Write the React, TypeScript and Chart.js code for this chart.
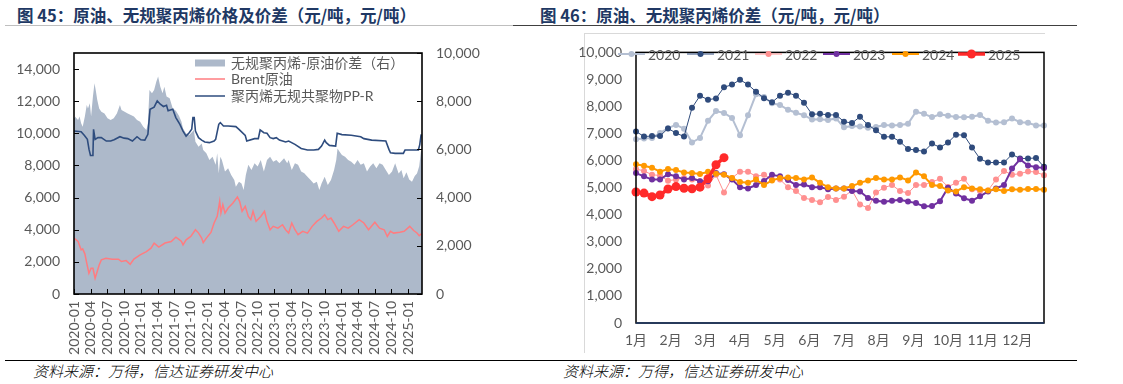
import React, { useEffect, useRef } from "react";
import { Chart, registerables } from "chart.js";
Chart.register(...registerables);

// ---------------- Left chart (图45) data: [months since 2020-01, value] ----------------
const ppSeries: [number, number][] = [
  [0, 10150], [1.28, 10100], [1.84, 9875], [2.4, 9625], [2.7, 9000], [2.96, 8625], [3.4, 8625], [3.51, 10250], [3.79, 9625],
  [4.3, 9730], [4.91, 9730], [5.8, 9520], [6.58, 9520], [7.2, 9600], [8.25, 9790], [9.0, 9700], [9.65, 9670], [10.49, 9520],
  [11.32, 9790], [12.0, 9600], [12.72, 9580], [13.27, 9940], [13.66, 11500], [14.39, 11625], [14.95, 12020], [15.5, 11810],
  [16.06, 11670], [16.62, 11750], [16.9, 11400], [17.74, 11500], [18.29, 10980], [19.02, 10560], [19.58, 10140], [20.13, 9830],
  [20.69, 10040], [21.14, 10250], [21.36, 10980], [21.59, 10980], [21.81, 10140], [22.37, 9730], [22.93, 9580], [23.49, 9460],
  [24.32, 9420], [25.16, 9520], [25.44, 9625], [26.0, 10560], [26.28, 10670], [26.84, 10460], [27.68, 10460], [29.07, 10420],
  [29.63, 10250], [30.75, 9875], [31.03, 9520], [32.43, 9670], [33.1, 9670], [33.43, 10210], [34.1, 10040], [34.66, 10000],
  [35.22, 9730], [35.78, 9670], [36.34, 9730], [36.89, 9580], [38.01, 9460], [38.55, 9520], [39.68, 9310], [40.8, 9060],
  [41.93, 8960], [43.05, 8960], [43.9, 9000], [44.46, 9210], [45.02, 9580], [45.3, 9420], [45.87, 9250], [46.99, 9210],
  [47.27, 10000], [48.12, 9920], [49.8, 9880], [51.49, 9790], [52.06, 9670], [53.46, 9580], [56.0, 9520], [56.56, 9000],
  [56.84, 8790], [57.68, 8750], [59.15, 8750], [59.45, 8960], [61.85, 8960], [62.1, 9300], [62.35, 9940],
];

const brentSeries: [number, number][] = [
  [0, 3480], [0.73, 3270], [1.28, 2750], [1.56, 2810], [1.95, 2500], [2.29, 1920], [2.68, 1290], [3.07, 1600], [3.4, 1600],
  [3.79, 980], [4.07, 1290], [4.52, 1810], [4.91, 2125], [5.74, 2230], [6.86, 2170], [7.98, 2170], [8.53, 2020], [9.37, 2080],
  [10.09, 1850], [10.76, 2170], [11.88, 2440], [13.0, 2640], [13.83, 2850], [14.39, 3170], [15.23, 2920], [16.34, 3170],
  [17.46, 3270], [18.29, 3540], [18.85, 3400], [19.3, 3270], [19.58, 3060], [20.13, 3370], [20.97, 3580], [21.81, 4000],
  [22.37, 3790], [22.93, 3480], [23.21, 3200], [23.77, 3480], [24.6, 3830], [25.16, 4420], [25.72, 4830], [26.17, 5770],
  [26.39, 5040], [26.73, 5560], [27.12, 5040], [27.68, 5350], [28.51, 5650], [29.35, 6040], [29.74, 5770], [30.19, 5150],
  [30.75, 5460], [31.31, 4830], [31.75, 4630], [32.15, 5150], [32.7, 4520], [33.54, 4830], [34.21, 5150], [34.66, 4520],
  [35.22, 4000], [35.78, 4210], [36.62, 4100], [37.45, 4310], [38.01, 4000], [38.55, 3790], [39.11, 4420], [39.68, 4000],
  [40.24, 3690], [41.08, 3900], [41.93, 3790], [42.77, 4210], [43.61, 4520], [44.46, 4730], [45.02, 4940], [45.58, 4630],
  [46.15, 4730], [46.71, 4420], [47.55, 3900], [48.4, 4210], [49.24, 4100], [50.09, 4310], [51.21, 4630], [52.06, 4420],
  [52.9, 4000], [54.03, 4470], [54.87, 4100], [55.71, 4000], [56.27, 3580], [56.84, 3900], [57.4, 3790], [58.5, 3850],
  [59.3, 3900], [60.3, 4210], [61.0, 3950], [61.6, 3800], [62.0, 3625], [62.4, 3750],
];

const spreadSeries: [number, number][] = [
  [0, 7300], [0.17, 7360], [0.73, 7220], [1.0, 7360], [1.28, 7080], [1.56, 6940], [1.95, 7360], [2.29, 7840], [2.51, 7700],
  [2.84, 7910], [3.07, 7360], [3.4, 8190], [3.68, 8740], [3.9, 8460], [4.18, 8050], [4.52, 7700], [4.91, 7560], [5.47, 7490],
  [6.02, 7290], [6.58, 7220], [7.14, 7290], [7.7, 7490], [8.25, 7840], [8.53, 7630], [9.09, 7560], [9.65, 7490], [10.21, 7430],
  [10.76, 7360], [11.32, 7220], [11.88, 7150], [12.44, 6940], [13.0, 6800], [13.27, 7080], [13.55, 8460], [14.0, 8330],
  [14.39, 8460], [14.78, 8810], [15.11, 9020], [15.5, 8600], [15.9, 8330], [16.23, 8600], [16.62, 8190], [17.18, 8120],
  [17.74, 7700], [18.29, 7600], [18.85, 7400], [19.3, 7150], [19.58, 6870], [20.13, 6660], [20.69, 6600], [21.25, 6730],
  [21.53, 6800], [21.81, 6320], [22.37, 6110], [22.93, 6250], [23.21, 5980], [23.77, 5840], [24.32, 5560], [24.88, 5700],
  [25.44, 5360], [25.72, 5840], [26.0, 5010], [26.28, 5700], [26.56, 5560], [27.12, 5080], [27.68, 5220], [28.23, 4940],
  [28.79, 4730], [29.07, 4450], [29.63, 4660], [30.08, 4590], [30.47, 4320], [30.86, 4940], [31.31, 5360], [31.87, 5150],
  [32.43, 5430], [32.98, 5290], [33.54, 5560], [34.1, 5080], [34.66, 5560], [35.22, 5700], [35.78, 5490], [36.34, 5560],
  [36.89, 5430], [37.73, 5630], [38.29, 5430], [38.55, 5560], [39.11, 5150], [39.68, 5430], [40.24, 5360], [40.8, 5080],
  [41.36, 5010], [41.93, 4870], [42.49, 4730], [43.05, 4590], [43.61, 4660], [44.06, 4320], [44.46, 4590], [45.02, 4870],
  [45.58, 4520], [46.15, 4730], [46.71, 5150], [47.1, 5560], [47.33, 6040], [47.67, 5910], [48.12, 5770], [48.68, 5700],
  [49.24, 5560], [49.8, 5490], [50.37, 5360], [50.93, 5560], [51.49, 5360], [52.06, 5430], [52.62, 5080], [53.18, 5290],
  [53.74, 5430], [54.31, 5220], [54.87, 5430], [55.43, 5360], [56.0, 5150], [56.56, 4940], [57.12, 5080], [57.68, 5430],
  [58.3, 5000], [58.8, 5150], [59.2, 4800], [59.7, 5050], [60.2, 4750], [60.7, 4660], [61.2, 4900], [61.6, 5000], [62.0, 5300],
  [62.3, 5900], [62.5, 5980],
];

const quarterTicks = [0, 3, 6, 9, 12, 15, 18, 21, 24, 27, 30, 33, 36, 39, 42, 45, 48, 51, 54, 57, 60];
const leftAxisTicks = [0, 2000, 4000, 6000, 8000, 10000, 12000, 14000];
const rightAxisTicks = [0, 2000, 4000, 6000, 8000, 10000];
const leftLegendLabels = ["无规聚丙烯-原油价差（右）", "Brent原油", "聚丙烯无规共聚物PP-R"];

// ---------------- Right chart (图46) data: weekly values ----------------
const monthLabels = ["1月", "2月", "3月", "4月", "5月", "6月", "7月", "8月", "9月", "10月", "11月", "12月"];
const yearLabels = ["2020", "2021", "2022", "2023", "2024", "2025"];
const s2020 = [6790, 6820, 6840, 7020, 7200, 7320, 7180, 6670, 6840, 7470, 7830, 7760, 7580, 6940, 7680, 8450, 8350, 8120, 8060, 7880,
  7770, 7680, 7520, 7530, 7500, 7560, 7230, 7280, 7260, 7220, 7240, 7320, 7300, 7320, 7360, 7810, 7730, 7610, 7710, 7660,
  7610, 7600, 7620, 7690, 7470, 7410, 7420, 7560, 7420, 7400, 7300, 7300];
const s2021 = [7080, 6890, 6910, 6910, 7190, 7020, 6890, 7950, 8400, 8250, 8300, 8710, 8810, 8990, 8810, 8550, 8310, 8160, 8400, 8510,
  8400, 8140, 7710, 7730, 7690, 7690, 7440, 7390, 7620, 7320, 7120, 6880, 6880, 6700, 6430, 6390, 6340, 6630, 6490, 6670,
  6960, 6940, 6490, 6070, 5930, 5930, 5930, 6230, 6080, 6080, 6100, 5770];
const s2022 = [5690, 5620, 5480, 5450, 5260, 5300, 5360, 5300, 5240, 5080, 5480, 4820, 5360, 5590, 5590, 5420, 5480, 5300, 5300, 5020,
  4880, 4620, 4550, 4460, 4660, 4550, 4670, 4900, 4380, 4250, 4820, 5000, 5100, 4880, 4800, 5100, 5100, 5210, 5330, 5030,
  5180, 5330, 4940, 4880, 4900, 5300, 5620, 5480, 5520, 5600, 5580, 5460];
const s2023 = [5540, 5420, 5300, 5300, 5500, 5420, 5300, 5360, 5240, 5240, 5540, 5500, 5300, 5020, 4970, 5100, 5250, 5480, 5420, 5280,
  5100, 5120, 5020, 5020, 4940, 4970, 4970, 4880, 4860, 4620, 4520, 4480, 4520, 4550, 4490, 4430, 4310, 4320, 4500, 5000,
  4790, 4610, 4520, 4680, 4860, 4970, 5100, 5710, 6050, 5820, 5760, 5730];
const s2024 = [5870, 5810, 5740, 5590, 5690, 5650, 5560, 5540, 5510, 5590, 5520, 5480, 5360, 5210, 5180, 5300, 5100, 5270, 5360, 5380,
  5360, 5300, 5380, 5180, 5020, 4970, 4970, 5060, 5180, 5270, 5360, 5300, 5300, 5380, 5270, 5560, 5420, 5100, 5060, 4900,
  4860, 5020, 4970, 4940, 4900, 4940, 4880, 4940, 4920, 4950, 4950, 4920];
const s2025 = [4840, 4800, 4670, 4730, 4950, 5040, 4980, 4960, 5020, 5330, 5850, 6110];

const LATIN = "Lato, 'Noto Sans CJK SC', sans-serif";
const CJK = "'Noto Sans CJK SC', sans-serif";
const GRAY = "#595959";
const fmt = (v: number) => Number(v).toLocaleString("en-US");
const monthLabel = (v: number) => {
  const y = 2020 + Math.floor(v / 12);
  const m = (v % 12) + 1;
  return `${y}-${m < 10 ? "0" + m : m}`;
};

const leftPlugin = {
  id: "leftDecor",
  afterDatasetsDraw(chart: any) {
    const { ctx, chartArea: a, scales } = chart;
    ctx.save();
    ctx.strokeStyle = "#000";
    ctx.lineWidth = 1;
    const ln = (x1: number, y1: number, x2: number, y2: number) => {
      ctx.beginPath();
      ctx.moveTo(x1, y1);
      ctx.lineTo(x2, y2);
      ctx.stroke();
    };
    scales.y.ticks.forEach((t: any) => {
      const y = Math.round(scales.y.getPixelForValue(t.value)) + 0.5;
      ln(a.left, y, a.left + 5, y);
    });
    scales.y2.ticks.forEach((t: any) => {
      const y = Math.round(scales.y2.getPixelForValue(t.value)) + 0.5;
      ln(a.right - 5, y, a.right, y);
    });
    scales.x.ticks.forEach((t: any) => {
      const x = Math.round(scales.x.getPixelForValue(t.value)) + 0.5;
      ln(x, a.bottom, x, a.bottom - 5);
    });
    ctx.lineWidth = 1.6;
    ctx.strokeRect(a.left, a.top, a.right - a.left, a.bottom - a.top);

    // legend
    const lx = a.left + 121;
    const rows = [a.top + 10, a.top + 26, a.top + 43];
    ctx.fillStyle = "#ADB9CA";
    ctx.fillRect(lx, rows[0] - 3.5, 30, 7);
    ctx.lineWidth = 1.5;
    ctx.strokeStyle = "#FF7C80";
    ln(lx, rows[1], lx + 30, rows[1]);
    ctx.strokeStyle = "#2E4C7E";
    ln(lx, rows[2], lx + 30, rows[2]);
    ctx.fillStyle = GRAY;
    ctx.font = `14px ${LATIN}`;
    ctx.textBaseline = "middle";
    ctx.textAlign = "left";
    leftLegendLabels.forEach((t, i) => ctx.fillText(t, lx + 36, rows[i]));
    ctx.restore();
  },
};

function LeftChart() {
  const ref = useRef<HTMLCanvasElement>(null);
  useEffect(() => {
    const chart = new Chart(ref.current!, {
      type: "line",
      data: {
        datasets: [
          {
            label: leftLegendLabels[2],
            data: ppSeries.map(([x, y]) => ({ x, y })),
            borderColor: "#2E4C7E",
            borderWidth: 1.6,
            pointRadius: 0,
            yAxisID: "y",
            order: 0,
          },
          {
            label: leftLegendLabels[1],
            data: brentSeries.map(([x, y]) => ({ x, y })),
            borderColor: "#FF7C80",
            borderWidth: 1.5,
            pointRadius: 0,
            yAxisID: "y",
            order: 1,
          },
          {
            label: leftLegendLabels[0],
            data: spreadSeries.map(([x, y]) => ({ x, y })),
            borderWidth: 0,
            borderColor: "#ADB9CA",
            backgroundColor: "#ADB9CA",
            fill: "origin",
            pointRadius: 0,
            yAxisID: "y2",
            order: 2,
          },
        ],
      },
      options: {
        animation: false,
        responsive: false,
        maintainAspectRatio: false,
        layout: { padding: { top: 23, left: 0, right: 0, bottom: 0 } },
        plugins: { legend: { display: false }, tooltip: { enabled: false } },
        scales: {
          x: {
            type: "linear",
            min: 0,
            max: 62.5,
            grid: { display: false, drawTicks: false },
            border: { display: false },
            afterBuildTicks: (s: any) => {
              s.ticks = quarterTicks.map((v) => ({ value: v }));
            },
            afterFit: (s: any) => {
              s.height = 61;
            },
            ticks: {
              autoSkip: false,
              minRotation: 90,
              maxRotation: 90,
              padding: 7,
              color: GRAY,
              font: { family: LATIN, size: 14 },
              callback: (v: any) => monthLabel(Number(v)),
            },
          },
          y: {
            position: "left",
            min: 0,
            max: 15000,
            grid: { display: false, drawTicks: false },
            border: { display: false },
            afterBuildTicks: (s: any) => {
              s.ticks = leftAxisTicks.map((v) => ({ value: v }));
            },
            afterFit: (s: any) => {
              s.width = 74;
            },
            ticks: {
              padding: 14,
              color: GRAY,
              font: { family: LATIN, size: 14 },
              callback: (v: any) => fmt(v),
            },
          },
          y2: {
            position: "right",
            min: 0,
            max: 10000,
            grid: { display: false, drawTicks: false },
            border: { display: false },
            afterBuildTicks: (s: any) => {
              s.ticks = rightAxisTicks.map((v) => ({ value: v }));
            },
            afterFit: (s: any) => {
              s.width = 138;
            },
            ticks: {
              padding: 14,
              color: GRAY,
              font: { family: LATIN, size: 14 },
              callback: (v: any) => fmt(v),
            },
          },
        },
      },
      plugins: [leftPlugin],
    });
    return () => chart.destroy();
  }, []);
  return <canvas ref={ref} width={560} height={325} style={{ position: "absolute", left: 0, top: 30 }} />;
}

const yearStyles = [
  { color: "#B4BFD2", width: 2, r: 3 },
  { color: "#2F4B7C", width: 1, r: 3 },
  { color: "#FF9090", width: 1, r: 3 },
  { color: "#7030A0", width: 2, r: 3 },
  { color: "#FF9900", width: 2, r: 3 },
  { color: "#FF2A2A", width: 3.5, r: 4.5 },
];
const legendX = [58, 127, 195, 263, 332, 398];

const rightPlugin = {
  id: "rightDecor",
  afterDatasetsDraw(chart: any) {
    const { ctx, chartArea: a } = chart;
    ctx.save();
    ctx.strokeStyle = "#000";
    ctx.lineWidth = 1.5;
    ctx.strokeRect(a.left, a.top, a.right - a.left, a.bottom - a.top);
    ctx.strokeStyle = "#1F3864";
    ctx.beginPath();
    ctx.moveTo(a.left, a.bottom);
    ctx.lineTo(a.right, a.bottom);
    ctx.stroke();
    // legend
    const y = 24;
    ctx.font = `14px ${LATIN}`;
    ctx.textBaseline = "middle";
    ctx.textAlign = "left";
    yearLabels.forEach((lab, i) => {
      const st = yearStyles[i];
      const x = legendX[i];
      ctx.strokeStyle = st.color;
      ctx.lineWidth = st.width;
      ctx.beginPath();
      ctx.moveTo(x, y);
      ctx.lineTo(x + 27, y);
      ctx.stroke();
      ctx.fillStyle = st.color;
      ctx.beginPath();
      ctx.arc(x + 13.5, y, st.r, 0, Math.PI * 2);
      ctx.fill();
      ctx.fillStyle = GRAY;
      ctx.fillText(lab, x + 30, y + 1);
    });
    ctx.restore();
  },
};

function RightChart() {
  const ref = useRef<HTMLCanvasElement>(null);
  useEffect(() => {
    const series = [s2020, s2021, s2022, s2023, s2024, s2025];
    const chart = new Chart(ref.current!, {
      type: "line",
      data: {
        datasets: series.map((s, i) => ({
          label: yearLabels[i],
          data: s.map((v, k) => ({ x: k, y: v })),
          borderColor: yearStyles[i].color,
          backgroundColor: yearStyles[i].color,
          borderWidth: yearStyles[i].width,
          pointRadius: yearStyles[i].r,
          pointBorderWidth: 0,
          pointBackgroundColor: yearStyles[i].color,
          order: 5 - i,
          clip: false as any,
        })),
      },
      options: {
        animation: false,
        responsive: false,
        maintainAspectRatio: false,
        layout: { padding: { top: 13, left: 0, right: 79, bottom: 0 } },
        plugins: { legend: { display: false }, tooltip: { enabled: false } },
        scales: {
          x: {
            type: "linear",
            min: 0,
            max: 51,
            grid: { display: false, drawTicks: false },
            border: { display: false },
            afterBuildTicks: (s: any) => {
              s.ticks = monthLabels.map((_, k) => ({ value: (k * 52) / 12 }));
            },
            afterFit: (s: any) => {
              s.height = 32;
            },
            ticks: {
              autoSkip: false,
              maxRotation: 0,
              minRotation: 0,
              padding: 9,
              color: GRAY,
              font: { family: LATIN, size: 14 },
              callback: (_v: any, idx: number) => monthLabels[idx],
            },
          },
          y: {
            min: 0,
            max: 10000,
            grid: { display: false, drawTicks: false },
            border: { display: false },
            afterFit: (s: any) => {
              s.width = 76;
            },
            ticks: {
              stepSize: 1000,
              padding: 14,
              color: GRAY,
              font: { family: LATIN, size: 14 },
              callback: (v: any) => fmt(v),
            },
          },
        },
      },
      plugins: [rightPlugin],
    });
    return () => chart.destroy();
  }, []);
  return <canvas ref={ref} width={563} height={325} style={{ position: "absolute", left: 560, top: 30 }} />;
}

const titleStyle: React.CSSProperties = {
  position: "absolute",
  top: 4,
  fontFamily: CJK,
  fontWeight: 700,
  fontSize: 16.5,
  color: "#203864",
  whiteSpace: "nowrap",
  lineHeight: "22px",
};
const sourceStyle: React.CSSProperties = {
  position: "absolute",
  top: 361,
  fontFamily: CJK,
  fontStyle: "italic",
  fontWeight: 300,
  fontSize: 15,
  color: "#000",
  whiteSpace: "nowrap",
  lineHeight: "20px",
};
const line = (left: number, top: number, width: number, height: number, color: string): React.CSSProperties => ({
  position: "absolute",
  left,
  top,
  width,
  height,
  background: color,
});

export default function App() {
  return (
    <div style={{ position: "absolute", left: 0, top: 0, width: 1123, height: 384, background: "#fff", overflow: "hidden" }}>
      <div style={{ ...titleStyle, left: 17 }}>图 45：原油、无规聚丙烯价格及价差（元/吨，元/吨）</div>
      <div style={{ ...titleStyle, left: 540 }}>图 46：原油、无规聚丙烯价差（元/吨，元/吨）</div>
      <div style={line(5, 25, 508, 1, "#bfbfbf")} />
      <div style={line(513, 25, 564, 1, "#404040")} />
      <div style={line(584, 33, 461, 1, "#d9d9d9")} />
      <div style={line(584, 33, 1, 320, "#d9d9d9")} />
      <LeftChart />
      <RightChart />
      <div style={line(5, 360, 1072, 1, "#000")} />
      <div style={{ ...sourceStyle, left: 33 }}>资料来源：万得，信达证券研发中心</div>
      <div style={{ ...sourceStyle, left: 563 }}>资料来源：万得，信达证券研发中心</div>
    </div>
  );
}
